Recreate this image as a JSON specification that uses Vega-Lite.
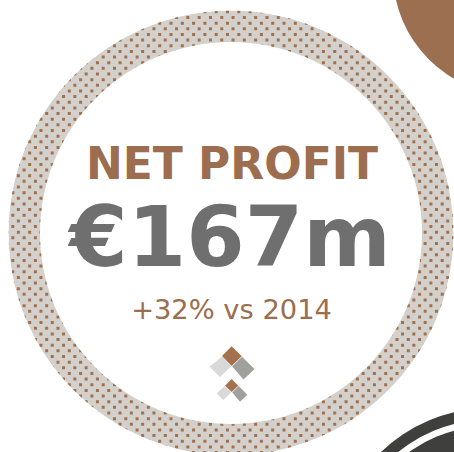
{"$schema":"https://vega.github.io/schema/vega-lite/v6.json","width":454,"height":452,"padding":0,"autosize":{"type":"fit","contains":"padding"},"background":"white","view":{"stroke":null},
"datasets":{
"discs":[
{"part":"ring","cx":231,"cy":233,"r0":0,"r":222.5}
],
"masks":[
{"part":"outside","cx":231,"cy":233,"r0":222.5,"r":800},
{"part":"hole","cx":231,"cy":233,"r0":0,"r":191},
{"part":"corner","cx":515,"cy":-27,"r0":0,"r":122},
{"part":"dark","cx":490,"cy":565,"r0":145.5,"r":157},
{"part":"dark","cx":490,"cy":565,"r0":0,"r":139}
],
"rows":[
{"y":11.85,"x":0},{"y":17.5,"x":5.55},{"y":23.15,"x":0},{"y":28.8,"x":5.55},{"y":34.45,"x":0},{"y":40.1,"x":5.55},{"y":45.75,"x":0},{"y":51.4,"x":5.55},{"y":57.05,"x":0},{"y":62.7,"x":5.55},{"y":68.35,"x":0},{"y":74,"x":5.55},{"y":79.65,"x":0},{"y":85.3,"x":5.55},{"y":90.95,"x":0},{"y":96.6,"x":5.55},{"y":102.25,"x":0},{"y":107.9,"x":5.55},{"y":113.55,"x":0},{"y":119.2,"x":5.55},{"y":124.85,"x":0},{"y":130.5,"x":5.55},{"y":136.15,"x":0},{"y":141.8,"x":5.55},{"y":147.45,"x":0},{"y":153.1,"x":5.55},{"y":158.75,"x":0},{"y":164.4,"x":5.55},{"y":170.05,"x":0},{"y":175.7,"x":5.55},{"y":181.35,"x":0},{"y":187,"x":5.55},{"y":192.65,"x":0},{"y":198.3,"x":5.55},{"y":203.95,"x":0},{"y":209.6,"x":5.55},{"y":215.25,"x":0},{"y":220.9,"x":5.55},{"y":226.55,"x":0},{"y":232.2,"x":5.55},{"y":237.85,"x":0},{"y":243.5,"x":5.55},{"y":249.15,"x":0},{"y":254.8,"x":5.55},{"y":260.45,"x":0},{"y":266.1,"x":5.55},{"y":271.75,"x":0},{"y":277.4,"x":5.55},{"y":283.05,"x":0},{"y":288.7,"x":5.55},{"y":294.35,"x":0},{"y":300,"x":5.55},{"y":305.65,"x":0},{"y":311.3,"x":5.55},{"y":316.95,"x":0},{"y":322.6,"x":5.55},{"y":328.25,"x":0},{"y":333.9,"x":5.55},{"y":339.55,"x":0},{"y":345.2,"x":5.55},{"y":350.85,"x":0},{"y":356.5,"x":5.55},{"y":362.15,"x":0},{"y":367.8,"x":5.55},{"y":373.45,"x":0},{"y":379.1,"x":5.55},{"y":384.75,"x":0},{"y":390.4,"x":5.55},{"y":396.05,"x":0},{"y":401.7,"x":5.55},{"y":407.35,"x":0},{"y":413,"x":5.55},{"y":418.65,"x":0},{"y":424.3,"x":5.55},{"y":429.95,"x":0},{"y":435.6,"x":5.55},{"y":441.25,"x":0},{"y":446.9,"x":5.55},{"y":452.55,"x":0}
],
"icon":[
{"piece":"bigTop","part":"brown","o":1,"x":231.7,"y":346.2},{"piece":"bigTop","part":"brown","o":2,"x":241.7,"y":356.2},{"piece":"bigTop","part":"brown","o":3,"x":231.7,"y":366},{"piece":"bigTop","part":"brown","o":4,"x":222,"y":356},
{"piece":"bigLeft","part":"light","o":1,"x":222,"y":356.5},{"piece":"bigLeft","part":"light","o":2,"x":231.2,"y":366.2},{"piece":"bigLeft","part":"light","o":3,"x":220,"y":377},{"piece":"bigLeft","part":"light","o":4,"x":209.5,"y":366.7},
{"piece":"bigRight","part":"mid","o":1,"x":242,"y":356.7},{"piece":"bigRight","part":"mid","o":2,"x":254.5,"y":369},{"piece":"bigRight","part":"mid","o":3,"x":243.5,"y":379.5},{"piece":"bigRight","part":"mid","o":4,"x":232.2,"y":366.5},
{"piece":"smallTop","part":"brown","o":1,"x":231.7,"y":379},{"piece":"smallTop","part":"brown","o":2,"x":238.3,"y":385.7},{"piece":"smallTop","part":"brown","o":3,"x":231.7,"y":392},{"piece":"smallTop","part":"brown","o":4,"x":225,"y":385.7},
{"piece":"smallLeft","part":"light","o":1,"x":225,"y":386},{"piece":"smallLeft","part":"light","o":2,"x":231.2,"y":392.3},{"piece":"smallLeft","part":"light","o":3,"x":223.3,"y":400},{"piece":"smallLeft","part":"light","o":4,"x":216.7,"y":393.3},
{"piece":"smallRight","part":"mid","o":1,"x":238.7,"y":386},{"piece":"smallRight","part":"mid","o":2,"x":247.3,"y":394.7},{"piece":"smallRight","part":"mid","o":3,"x":240,"y":401.7},{"piece":"smallRight","part":"mid","o":4,"x":232.3,"y":392.5}
]
},
"encoding":{"x":{"field":"x","type":"quantitative","scale":{"domain":[0,454],"range":[0,454],"nice":false,"zero":false},"axis":null},"y":{"field":"y","type":"quantitative","scale":{"domain":[0,452],"range":[0,452],"nice":false,"zero":false},"axis":null}},
"layer":[
{"data":{"name":"discs"},"mark":{"type":"arc","theta":0,"theta2":6.2832,"clip":true},
"encoding":{"x":{"field":"cx","type":"quantitative","scale":{"domain":[0,454],"range":[0,454],"nice":false,"zero":false},"axis":null},"y":{"field":"cy","type":"quantitative","scale":{"domain":[0,452],"range":[0,452],"nice":false,"zero":false},"axis":null},"radius":{"field":"r","type":"quantitative","scale":{"domain":[0,800],"range":[0,800]}},"radius2":{"field":"r0"},"color":{"field":"part","type":"nominal","legend":null,"scale":{"domain":["ring","outside","hole","corner","dark","brownText","greyText","brown","light","mid"],"range":["#d4d1cd","#ffffff","#ffffff","#9c6f50","#3f3f3d","#9c6d4e","#6f6f6f","#a4714f","#d9d9d9","#a0a09f"]}}}},
{"data":{"name":"rows"},"mark":{"type":"rule","strokeDash":[3,8.3],"strokeWidth":3,"color":"#a0714f","clip":true},
"encoding":{"x2":{"datum":454}}},
{"data":{"name":"masks"},"mark":{"type":"arc","theta":0,"theta2":6.2832,"clip":true},
"encoding":{"x":{"field":"cx","type":"quantitative","scale":{"domain":[0,454],"range":[0,454],"nice":false,"zero":false},"axis":null},"y":{"field":"cy","type":"quantitative","scale":{"domain":[0,452],"range":[0,452],"nice":false,"zero":false},"axis":null},"radius":{"field":"r","type":"quantitative","scale":{"domain":[0,800],"range":[0,800]}},"radius2":{"field":"r0"},"color":{"field":"part","type":"nominal","legend":null}}},
{"data":{"name":"icon"},"mark":{"type":"line","interpolate":"linear-closed","strokeWidth":0,"clip":true},
"encoding":{"detail":{"field":"piece"},"order":{"field":"o"},"fill":{"field":"part","type":"nominal","legend":null,"scale":{"domain":["brown","light","mid"],"range":["#a4714f","#d9d9d9","#a0a09f"]}}}},
{"data":{"values":[{"label":"NET PROFIT","part":"brownText","x":232,"y":179}]},"mark":{"type":"text","font":"DejaVu Sans","fontWeight":"bold","fontSize":44,"align":"center","baseline":"alphabetic"},
"encoding":{"text":{"field":"label"},"color":{"field":"part","type":"nominal","legend":null}}},
{"data":{"values":[{"label":"€167m","part":"greyText","x":230,"y":266}]},"mark":{"type":"text","font":"DejaVu Sans","fontWeight":"bold","fontSize":84,"align":"center","baseline":"alphabetic"},
"encoding":{"text":{"field":"label"},"color":{"field":"part","type":"nominal","legend":null}}},
{"data":{"values":[{"label":"+32% vs 2014","part":"brownText","x":231.5,"y":319}]},"mark":{"type":"text","font":"DejaVu Sans","fontSize":27.3,"align":"center","baseline":"alphabetic"},
"encoding":{"text":{"field":"label"},"color":{"field":"part","type":"nominal","legend":null}}}
]}
